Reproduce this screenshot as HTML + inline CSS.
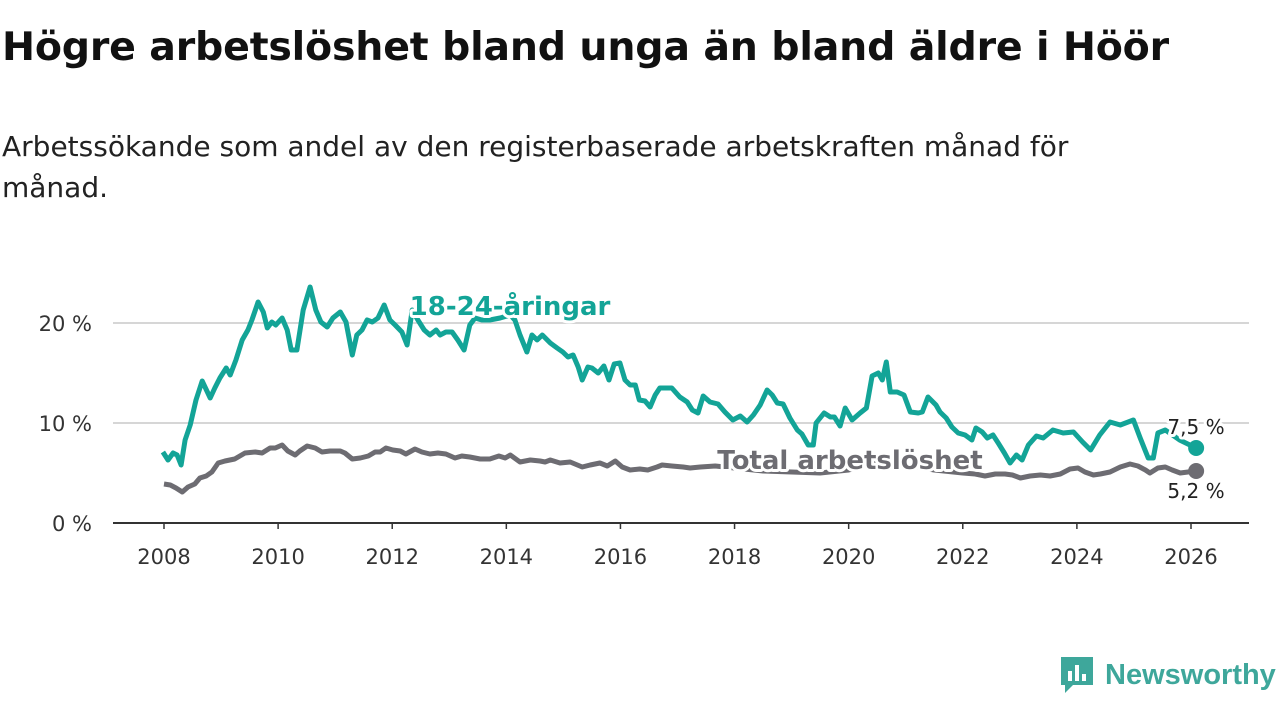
<!DOCTYPE html>
<html><head><meta charset="utf-8"><style>
body{margin:0;background:#fff;width:1280px;height:720px;overflow:hidden;font-family:"DejaVu Sans","Liberation Sans",sans-serif;}
h1{position:absolute;left:2px;top:24px;margin:0;font-size:39.5px;font-weight:bold;color:#111;letter-spacing:-0.2px;}
.sub{position:absolute;left:2px;top:126px;margin:0;font-size:28px;line-height:41px;color:#222;width:1150px;}
svg{position:absolute;left:0;top:0;}
</style></head><body>
<h1>Högre arbetslöshet bland unga än bland äldre i Höör</h1>
<p class="sub">Arbetssökande som andel av den registerbaserade arbetskraften månad för månad.</p>
<svg id="chart" width="1280" height="720"></svg>
<script>
const yTicks=[0,10,20];
const yTickLabels=["0 %","10 %","20 %"];
const xTicks=[2008,2010,2012,2014,2016,2018,2020,2022,2024,2026];
const youthDates=[2007.98,2008.07,2008.16,2008.23,2008.30,2008.37,2008.46,2008.56,2008.67,2008.81,2008.89,2008.98,2009.09,2009.16,2009.26,2009.37,2009.47,2009.54,2009.65,2009.74,2009.81,2009.89,2009.96,2010.07,2010.16,2010.23,2010.33,2010.44,2010.56,2010.66,2010.75,2010.86,2010.96,2011.09,2011.19,2011.30,2011.38,2011.47,2011.56,2011.65,2011.75,2011.86,2011.96,2012.05,2012.17,2012.26,2012.35,2012.45,2012.56,2012.66,2012.77,2012.84,2012.94,2013.05,2013.15,2013.26,2013.36,2013.45,2013.57,2013.71,2013.89,2014.07,2014.15,2014.24,2014.36,2014.45,2014.54,2014.63,2014.77,2014.89,2014.99,2015.08,2015.17,2015.26,2015.33,2015.43,2015.50,2015.61,2015.71,2015.80,2015.89,2015.99,2016.08,2016.17,2016.26,2016.33,2016.43,2016.52,2016.61,2016.69,2016.90,2017.04,2017.17,2017.26,2017.36,2017.45,2017.57,2017.71,2017.83,2017.97,2018.10,2018.22,2018.33,2018.45,2018.57,2018.66,2018.75,2018.85,2018.97,2019.10,2019.18,2019.29,2019.38,2019.43,2019.57,2019.68,2019.75,2019.85,2019.94,2020.06,2020.20,2020.31,2020.41,2020.52,2020.59,2020.66,2020.73,2020.85,2020.97,2021.08,2021.22,2021.29,2021.39,2021.53,2021.60,2021.71,2021.81,2021.92,2022.04,2022.16,2022.23,2022.34,2022.43,2022.53,2022.62,2022.73,2022.83,2022.94,2023.04,2023.15,2023.29,2023.41,2023.58,2023.76,2023.94,2024.10,2024.24,2024.40,2024.58,2024.76,2024.99,2025.11,2025.25,2025.34,2025.42,2025.55,2025.80,2026.09];
const youthValues=[7.1,6.3,7.0,6.8,5.8,8.3,9.8,12.3,14.2,12.5,13.5,14.5,15.5,14.8,16.3,18.3,19.3,20.3,22.1,21.1,19.5,20.1,19.8,20.5,19.3,17.3,17.3,21.3,23.6,21.3,20.1,19.6,20.5,21.1,20.1,16.8,18.8,19.3,20.3,20.1,20.5,21.8,20.3,19.8,19.1,17.8,21.3,20.3,19.3,18.8,19.3,18.8,19.1,19.1,18.3,17.3,19.8,20.5,20.3,20.3,20.5,20.8,20.3,18.8,17.1,18.8,18.3,18.8,18.0,17.5,17.1,16.6,16.8,15.6,14.3,15.6,15.5,15.0,15.7,14.3,15.9,16.0,14.3,13.8,13.8,12.3,12.2,11.6,12.8,13.5,13.5,12.6,12.1,11.3,11.0,12.7,12.1,11.9,11.1,10.3,10.7,10.1,10.8,11.8,13.3,12.8,12.0,11.9,10.5,9.3,8.9,7.8,7.8,10.0,11.0,10.6,10.6,9.7,11.5,10.3,11.0,11.5,14.7,15.0,14.3,16.1,13.1,13.1,12.8,11.1,11.0,11.1,12.6,11.8,11.1,10.5,9.6,9.0,8.8,8.3,9.5,9.1,8.5,8.8,8.0,7.0,6.0,6.8,6.3,7.8,8.7,8.5,9.3,9.0,9.1,8.1,7.3,8.8,10.1,9.8,10.3,8.5,6.5,6.5,9.0,9.3,8.3,7.5];
const totalDates=[2008.00,2008.11,2008.21,2008.32,2008.42,2008.54,2008.63,2008.74,2008.84,2008.95,2009.07,2009.24,2009.42,2009.60,2009.72,2009.86,2009.95,2010.07,2010.17,2010.30,2010.38,2010.51,2010.65,2010.77,2010.91,2011.09,2011.17,2011.30,2011.44,2011.58,2011.70,2011.79,2011.89,2012.01,2012.14,2012.24,2012.40,2012.52,2012.66,2012.80,2012.94,2013.10,2013.22,2013.36,2013.54,2013.71,2013.87,2013.98,2014.07,2014.24,2014.42,2014.59,2014.68,2014.77,2014.94,2015.12,2015.33,2015.47,2015.64,2015.77,2015.91,2016.03,2016.17,2016.34,2016.48,2016.64,2016.73,2016.90,2017.10,2017.22,2017.40,2017.66,2018.0,2018.5,2019.0,2019.5,2020.0,2020.5,2021.0,2021.5,2022.0,2022.22,2022.39,2022.57,2022.74,2022.87,2023.01,2023.18,2023.36,2023.53,2023.71,2023.88,2024.02,2024.14,2024.29,2024.41,2024.58,2024.76,2024.93,2025.07,2025.20,2025.28,2025.42,2025.55,2025.67,2025.81,2025.95,2026.09];
const totalValues=[3.9,3.8,3.5,3.1,3.6,3.9,4.5,4.7,5.1,6.0,6.2,6.4,7.0,7.1,7.0,7.5,7.5,7.8,7.2,6.8,7.2,7.7,7.5,7.1,7.2,7.2,7.0,6.4,6.5,6.7,7.1,7.1,7.5,7.3,7.2,6.9,7.4,7.1,6.9,7.0,6.9,6.5,6.7,6.6,6.4,6.4,6.7,6.5,6.8,6.1,6.3,6.2,6.1,6.3,6.0,6.1,5.6,5.8,6.0,5.7,6.2,5.6,5.3,5.4,5.3,5.6,5.8,5.7,5.6,5.5,5.6,5.7,5.5,5.2,5.1,5.0,5.3,6.0,5.8,5.3,5.0,4.9,4.7,4.9,4.9,4.8,4.5,4.7,4.8,4.7,4.9,5.4,5.5,5.1,4.8,4.9,5.1,5.6,5.9,5.7,5.3,5.0,5.5,5.6,5.3,5.0,5.1,5.2];

const NS="http://www.w3.org/2000/svg";
const svg=document.getElementById('chart');
const X0=113,X1=1249,Y0=523;
const xs=y=>164+(y-2008)*(1191-164)/18;
const ys=v=>Y0-v*10;
function mk(t,a,p){const e=document.createElementNS(NS,t);for(const k in a)e.setAttribute(k,a[k]);(p||svg).appendChild(e);return e;}
yTicks.forEach((t,i)=>{
  if(t>0){const g=mk('line',{x1:X0,x2:X1,y1:ys(t),y2:ys(t),stroke:'#d6d6d6','stroke-width':2});
  
  }
  const l=mk('text',{x:92,y:ys(t)+8,'text-anchor':'end','font-size':21,fill:'#333'});
  l.textContent=yTickLabels[i];
  
  
});
const ax=mk('line',{x1:X0,x2:X1,y1:Y0,y2:Y0,stroke:'#333','stroke-width':2});


xTicks.forEach(t=>{
  mk('line',{x1:xs(t),x2:xs(t),y1:Y0,y2:Y0+6,stroke:'#333','stroke-width':1.5});
  const l=mk('text',{x:xs(t),y:564,'text-anchor':'middle','font-size':21,fill:'#333'});
  l.textContent=t;
  
  
});
function line(d,v,c,name){
  const p=mk('path',{d:d.map((x,i)=>(i?'L':'M')+xs(x).toFixed(1)+','+ys(v[i]).toFixed(1)).join(''),fill:'none',stroke:c,'stroke-width':5,'stroke-linejoin':'round'});
  
  
  const n=d.length-1;
  const c2=mk('circle',{cx:xs(d[n]),cy:ys(v[n]),r:8,fill:c});
  
  
}
line(totalDates,totalValues,'#6d6c72','total-line');
line(youthDates,youthValues,'#13a497','youth-line');
function lab(x,y,t,c,fs,w,anchor,name){
  const e=mk('text',{x:x,y:y,'text-anchor':anchor,'font-size':fs,'font-weight':w,fill:c,stroke:'#fff','stroke-width':6,'paint-order':'stroke','stroke-linejoin':'round'});
  e.textContent=t;
  
  
}
lab(510,315,'18-24-åringar','#13a497',26,'bold','middle','youth-series-label');
lab(850,469,'Total arbetslöshet','#6d6c72',26,'bold','middle','total-series-label');
const n1=youthValues.length-1,n2=totalValues.length-1;
lab(1196,434,youthValues[n1].toFixed(1).replace('.',',')+' %','#222',20,'normal','middle','youth-end-value');
lab(1196,498,totalValues[n2].toFixed(1).replace('.',',')+' %','#222',20,'normal','middle','total-end-value');
</script>
<div style="position:absolute;left:1059px;top:655px;height:40px;display:flex;align-items:center;">
<svg width="36" height="40" style="position:static"><path d="M2 2h32v28H14l-8 8v-8H2z" fill="#3ea79b"/><rect x="9" y="16" width="4" height="10" fill="#fff"/><rect x="16" y="10" width="4" height="16" fill="#fff"/><rect x="23" y="19" width="4" height="7" fill="#fff"/></svg>
<span style="margin-left:10px;font-family:'Liberation Sans',sans-serif;font-size:29px;font-weight:bold;color:#3ea79b;">Newsworthy</span></div>
</body></html>
